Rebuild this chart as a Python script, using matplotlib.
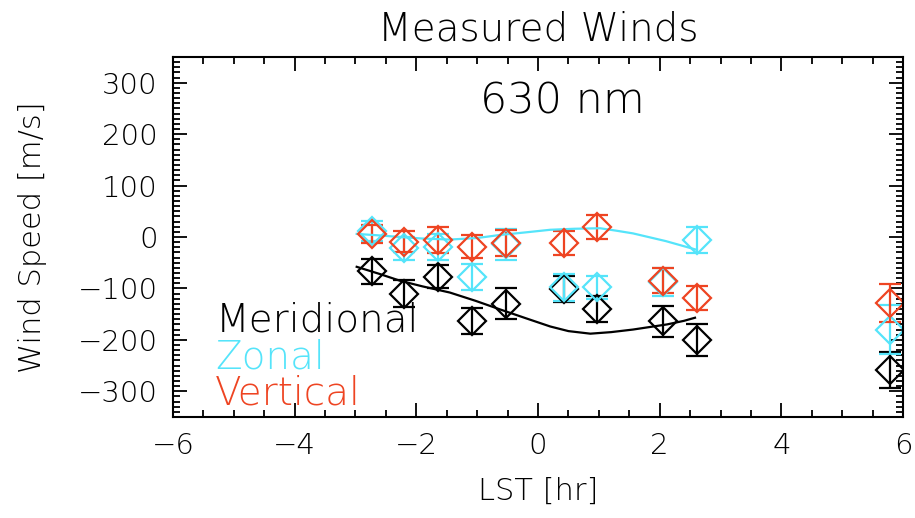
import numpy as np
import matplotlib
matplotlib.use("Agg")
import matplotlib.pyplot as plt
from matplotlib.ticker import MultipleLocator

# measured winds, 630 nm
lst = [-2.73, -2.2, -1.65, -1.08, -0.53, 0.42, 0.97, 2.05, 2.62, 5.78]
merid = [-67, -110, -77, -164, -130, -101, -140, -164, -200, -259]
merid_err = [25, 26, 23, 25, 30, 26, 26, 30, 31, 35]
zonal = [12, -22, -20, -78, -14, -98, -98, -88, -6, -180]
zonal_err = [20, 22, 25, 26, 30, 26, 22, 27, 25, 48]
vert = [6, -9, -6, -19, -12, -12, 20, -85, -118, -128]
vert_err = [18, 20, 26, 22, 25, 23, 23, 24, 23, 37]

# model curves
mod_lst_z = [-2.98, -2.6, -2.27, -1.9, -1.45, -1.0, -0.62, -0.2, 0.2, 0.6, 1.02, 1.3, 1.56, 2.1, 2.61]
mod_zonal = [6, 3, 0, -3, -5, -2, 4, 9, 14, 16, 17, 12, 7, -8, -25]
mod_lst_m = [-2.98, -2.6, -2.27, -1.9, -1.45, -1.03, -0.62, -0.2, 0.2, 0.5, 0.86, 1.2, 1.56, 2.12, 2.4, 2.58]
mod_merid = [-58, -72, -85, -96, -108, -124, -141, -158, -174, -183, -188, -185, -180, -170, -163, -157]

black = "black"
cyan = "#55e4fa"
red = "#ee4422"

plt.rcParams['font.family'] = ['DejaVu Sans']
plt.rcParams['font.weight'] = 'light'
plt.rcParams['axes.titleweight'] = 'light'
plt.rcParams['axes.labelweight'] = 'light'

fig = plt.figure(figsize=(9.15, 5.18), dpi=100)
ax = fig.add_axes([0.189, 0.195, 0.798, 0.695])

for y, e, c in [(merid, merid_err, black), (zonal, zonal_err, cyan), (vert, vert_err, red)]:
    ax.errorbar(lst, y, yerr=e, fmt='D', ms=14, mfc='none', mec=c, mew=1.6,
                ecolor=c, elinewidth=1.6, capsize=8, capthick=1.6)

ax.plot(mod_lst_m, mod_merid, color=black, lw=1.6)
ax.plot(mod_lst_z, mod_zonal, color=cyan, lw=1.6)

ax.set_xlim(-6, 6)
ax.set_ylim(-350, 350)
ax.xaxis.set_major_locator(MultipleLocator(2))
ax.xaxis.set_minor_locator(MultipleLocator(0.5))
ax.yaxis.set_major_locator(MultipleLocator(100))
ax.yaxis.set_minor_locator(MultipleLocator(10))
ax.tick_params(which='both', direction='in', top=True, right=True, width=1.3)
ax.tick_params(which='major', length=10, labelsize=21, pad=11)
ax.tick_params(which='minor', length=5)
for s in ax.spines.values():
    s.set_linewidth(1.5)

ax.set_xlabel("LST [hr]", fontsize=22, labelpad=12)
ax.set_ylabel("Wind Speed [m/s]", fontsize=22, labelpad=22)
ax.set_title("Measured Winds", fontsize=28, pad=12)

ax.text(0.533, 0.844, "630 nm", transform=ax.transAxes, fontsize=31, ha='center')
ax.text(0.058, 0.238, "Meridional", transform=ax.transAxes, fontsize=28, color=black)
ax.text(0.058, 0.136, "Zonal", transform=ax.transAxes, fontsize=28, color=cyan)
ax.text(0.058, 0.034, "Vertical", transform=ax.transAxes, fontsize=28, color=red)

fig.savefig("out.png", dpi=100)
